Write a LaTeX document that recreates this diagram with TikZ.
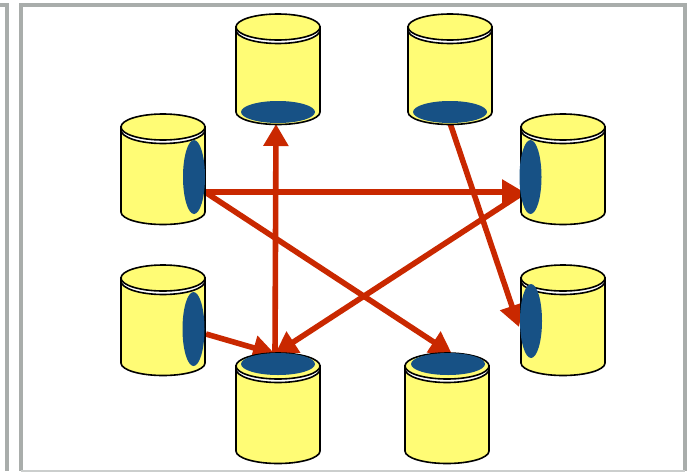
\documentclass[tikz,border=0pt]{standalone}
\usetikzlibrary{arrows.meta, backgrounds, shapes.geometric}
\definecolor{drumyellow}{HTML}{FFFC75}
\definecolor{spotblue}{HTML}{175185}
\definecolor{linkred}{HTML}{C92800}
\definecolor{framegray}{HTML}{A9ADAB}
\tikzset{
	spot/.style={ellipse, fill=spotblue, inner sep=0pt},
	spot flat/.style={spot, minimum width=55.5pt, minimum height=16.5pt},
	spot tall/.style={spot, minimum width=16.5pt, minimum height=55.5pt},
	link/.style={draw=linkred, line width=4.2pt, -{Triangle[length=16.5pt,width=18pt]}},
	frame/.style={draw=framegray, line width=2.4pt},
	pics/drum/.style={code={
		\draw[fill=drumyellow, line width=1.2pt] (-42,4) -- (-42,85) arc[start angle=180, end angle=0, x radius=42, y radius=12.5] -- (42,4) -- cycle;
		\draw[line width=1.2pt, fill=white] (-42,3) arc[start angle=180, end angle=0, x radius=42, y radius=13.5] -- (42,0) -- (-42,0) -- cycle;
		\draw[fill=drumyellow, line width=1.2pt] (0,0) ellipse[x radius=42, y radius=13];
	}},
}
\begin{document}
\begin{tikzpicture}[x=0.75pt, y=-0.75pt]
	\useasboundingbox (0,0) rectangle (691,471);
	% Frames
	\coordinate (leftA) at (0,5);
	\coordinate (leftB) at (7,5);
	\coordinate (leftC) at (7,471);
	\coordinate (mainA) at (21,471);
	\coordinate (mainB) at (21,5);
	\coordinate (mainC) at (685,5);
	\coordinate (mainD) at (685,471);
	\draw[frame] (leftA) -- (leftB) -- (leftC);
	\draw[frame] (mainA) -- (mainB) -- (mainC) -- (mainD);
	\draw[draw=framegray!60, line width=0.8pt] (mainA) -- (mainD);
	% Drums
	\pic at (278,27) {drum};
	\pic at (450,27) {drum};
	\pic at (163,127) {drum};
	\pic at (563,127) {drum};
	\pic at (163,278) {drum};
	\pic at (563,278) {drum};
	\pic at (278,366) {drum};
	\pic at (447,366) {drum};
	% Spots
	\node[spot flat] (upleft) at (278,112) {};
	\node[spot flat] (upright) at (450,112) {};
	\node[spot tall] (midleft) at (194,177) {};
	\node[spot tall] (midright) at (530.5,177) {};
	\node[spot tall] (lowleft) at (193.5,329) {};
	\node[spot tall] (lowright) at (531,321) {};
	\node[spot flat] (downleft) at (278,364) {};
	\node[spot flat] (downright) at (448,364) {};
	% Link ends
	\coordinate (midleftout) at (205,192);
	\coordinate (midrightend) at (524,192);
	\coordinate (lowleftout) at (206,334);
	\coordinate (downleftend) at (275,354);
	\coordinate (upleftend) at (276,124);
	\coordinate (uprightout) at (450,123);
	\coordinate (lowrightend) at (519,327);
	\coordinate (downrightend) at (452,354);
	% Links
	\begin{scope}[on background layer]
		\draw[link] (midleftout) -- (midrightend);
		\draw[link] (midleftout) -- (downrightend);
		\draw[link] (midrightend) -- (downleftend);
		\draw[link] (lowleftout) -- (downleftend);
		\draw[link] (downleftend) -- (upleftend);
		\draw[link] (uprightout) -- (lowrightend);
	\end{scope}
\end{tikzpicture}
\end{document}
